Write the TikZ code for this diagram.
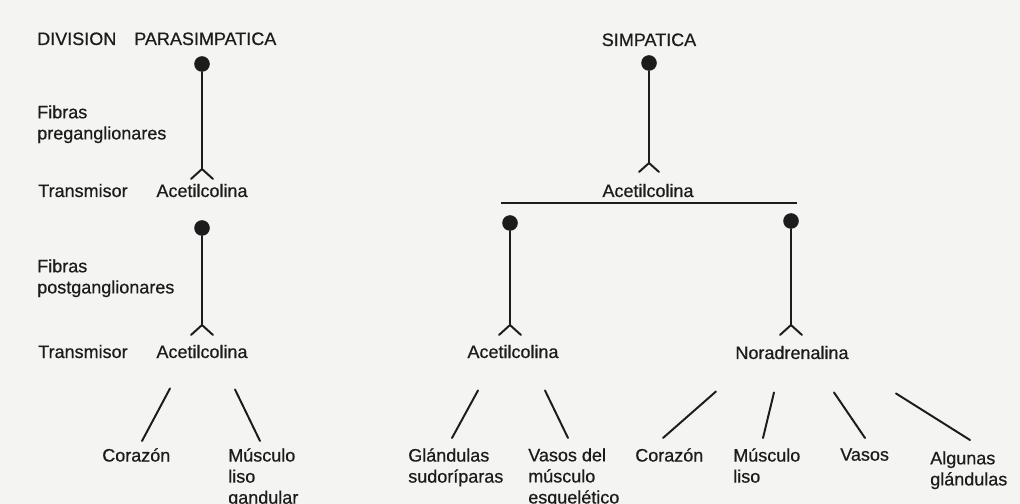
\documentclass[tikz,border=0pt]{standalone}
\usepackage{xcolor}
\usepackage{fontspec}
\setmainfont{Liberation Sans}[BoldFont = {Liberation Sans}, BoldFeatures = {FakeBold = 0.6}]
\usepackage{tikz}
\usetikzlibrary{calc}
\usetikzlibrary{positioning}
\definecolor{paper}{RGB}{244,244,242}
\definecolor{ink}{RGB}{28,28,28}
\tikzstyle{soma} = [circle, fill = ink, draw = none, minimum size = 0.39cm, inner sep = 0pt]
\tikzstyle{lbl} = [inner sep = 0pt, text = ink, font = \fontsize{12.8}{15}\selectfont\bfseries, align = left]
\tikzstyle{fibra} = [-, draw = ink, line width = 1.4pt, line cap = round, line join = round]

\begin{document}
\begin{tikzpicture}[x = 0.025cm, y = -0.025cm]
 \fill [paper] (0, 0) rectangle (1020, 504);
 \useasboundingbox (0, 0) rectangle (1020, 504);
 % division parasimpatica
 \node [lbl, anchor = base west] (D) at (37, 45) {DIVISION\quad PARASIMPATICA};
 \node [soma] (P1) at (202, 64) {};
 \coordinate (Y1) at (202, 169);
 \node [lbl, anchor = north west] (F1) at (37, 105) {Fibras\\preganglionares};
 \node [lbl, anchor = base west] (T1) at (38, 197) {Transmisor};
 \node [lbl, anchor = base] (A1) at (202, 197) {Acetilcolina};
 \node [soma] (P2) at (202, 228) {};
 \coordinate (Y2) at (202, 325);
 \node [lbl, anchor = north west] (F2) at (37, 259) {Fibras\\postganglionares};
 \node [lbl, anchor = base west] (T2) at (38, 358) {Transmisor};
 \node [lbl, anchor = base] (A2) at (202, 358) {Acetilcolina};
 \node [lbl, anchor = north west] (C1) at (102, 448) {Corazón};
 \node [lbl, anchor = north west] (M1) at (228, 448) {Músculo\\liso\\gandular};
 \draw [fibra] (P1) to (Y1);
 \draw [fibra] (Y1) -- ++(-11, 10) (Y1) -- ++(11, 10);
 \draw [fibra] (P2) to (Y2);
 \draw [fibra] (Y2) -- ++(-11, 10) (Y2) -- ++(11, 10);
 \draw [fibra] ([shift = {(-32, 30)}] A2.south) to ([shift = {(40, -7)}] C1.north west);
 \draw [fibra] ([shift = {(33, 31)}] A2.south) to ([shift = {(32, -7)}] M1.north west);
 % simpatica
 \node [lbl, anchor = base] (S) at (649, 46) {SIMPATICA};
 \node [soma] (S1) at (649, 63) {};
 \coordinate (Y3) at (649, 163);
 \node [lbl, anchor = base] (A3) at (648, 197) {Acetilcolina};
 \coordinate (B1) at (501, 203);
 \coordinate (B2) at (797, 203);
 \node [soma] (S2) at (510, 223) {};
 \node [soma] (S3) at (791, 221) {};
 \coordinate (Y4) at (510, 325);
 \coordinate (Y5) at (791, 325);
 \node [lbl, anchor = base] (A4) at (513, 358) {Acetilcolina};
 \node [lbl, anchor = base] (N) at (792, 359) {Noradrenalina};
 \node [lbl, anchor = north west] (G) at (408, 448) {Glándulas\\sudoríparas};
 \node [lbl, anchor = north west] (V1) at (528, 448) {Vasos del\\músculo\\esquelético};
 \node [lbl, anchor = north west] (C2) at (635, 448) {Corazón};
 \node [lbl, anchor = north west] (M2) at (733, 448) {Músculo\\liso};
 \node [lbl, anchor = north west] (V2) at (840, 448) {Vasos};
 \node [lbl, anchor = north west] (G2) at (930, 451) {Algunas\\glándulas};
 \draw [fibra] (S1) to (Y3);
 \draw [fibra] (Y3) -- ++(-10, 9) (Y3) -- ++(10, 9);
 \draw [fibra, line cap = butt] (B1) to (B2);
 \draw [fibra] (S2) to (Y4);
 \draw [fibra] (Y4) -- ++(-11, 10) (Y4) -- ++(11, 10);
 \draw [fibra] (S3) to (Y5);
 \draw [fibra] (Y5) -- ++(-11, 10) (Y5) -- ++(11, 10);
 \draw [fibra] ([shift = {(-35, 32)}] A4.south) to ([shift = {(44, -10)}] G.north west);
 \draw [fibra] ([shift = {(32, 32)}] A4.south) to ([shift = {(40, -10)}] V1.north west);
 \draw [fibra] ([shift = {(-76, 32)}] N.south) to ([shift = {(28, -10)}] C2.north west);
 \draw [fibra] ([shift = {(-18, 33)}] N.south) to ([shift = {(30, -10)}] M2.north west);
 \draw [fibra] ([shift = {(42, 33)}] N.south) to ([shift = {(25, -10)}] V2.north west);
 \draw [fibra] ([shift = {(104, 34)}] N.south) to ([shift = {(40, -11)}] G2.north west);
\end{tikzpicture}
\end{document}
